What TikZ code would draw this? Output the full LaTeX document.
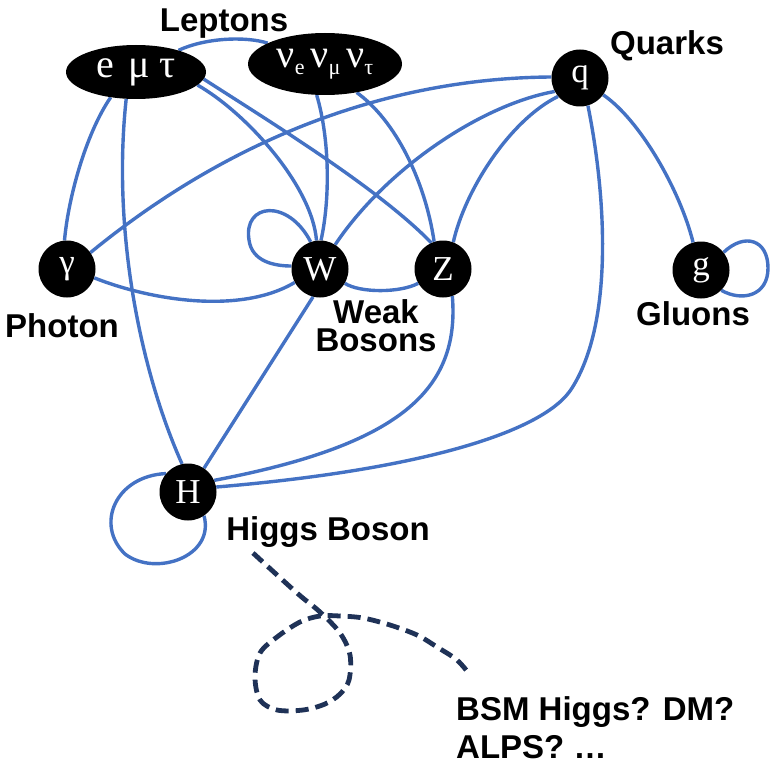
\documentclass[tikz,border=0pt]{standalone}
\usepackage{fontspec}
\setmainfont{Liberation Sans}
\newfontfamily\serifgk{Liberation Serif}
\usetikzlibrary{shapes.geometric,backgrounds}
\definecolor{edgeblue}{HTML}{4472C4}
\definecolor{navy}{HTML}{1F3257}
\newcommand\nusub[1]{\raisebox{-7pt}{\fontsize{22}{22}\selectfont #1}}
\begin{document}
\begin{tikzpicture}[x=1pt,y=-1pt,
 particle/.style={circle,fill=black,minimum size=57pt,inner sep=0pt,text=white,font=\serifgk\fontsize{35}{35}\selectfont},
 lepton/.style={ellipse,fill=black,inner sep=0pt,text=white,font=\serifgk\fontsize{40}{40}\selectfont},
 lab/.style={font=\bfseries\fontsize{33}{33}\selectfont,anchor=base,inner sep=0pt},
 link/.style={draw=edgeblue,line width=3.4pt},
 bsm/.style={draw=navy,line width=4.8pt,dash pattern=on 13pt off 7pt}]
\useasboundingbox (0,0) rectangle (770,778);

% particles
\node[lepton,minimum width=140pt,minimum height=54pt] (L) at (136,72) {\raisebox{-4pt}{e\hspace{14pt}μ\hspace{10pt}τ}};
\node[lepton,minimum width=154pt,minimum height=62pt] (N) at (325,64) {\raisebox{-3pt}{ν\nusub{e}\hspace{6pt}ν\nusub{μ}\hspace{6pt}ν\nusub{τ}}};
\node[particle] (q) at (580,78) {q};
\node[particle] (g) at (701,270) {g};
\node[particle] (ga) at (67,269) {γ};
\node[particle] (W) at (320,269) {W};
\node[particle] (Z) at (443,269) {Z};
\node[particle] (H) at (188,492) {H};

% labels
\node[lab] (tLep) at (224,32) {Leptons};
\node[lab] (tQ) at (667,55) {Quarks};
\node[lab] (tPh) at (62,337) {Photon};
\node[font=\bfseries\fontsize{33}{28}\selectfont,align=center,inner sep=0pt] (tWB) at (376,326) {Weak\\Bosons};
\node[lab] (tGl) at (693,325) {Gluons};
\node[lab] (tHiggs) at (328,540) {Higgs Boson};
\node[lab,anchor=base west] (tBSM1) at (456,720) {BSM Higgs? DM?};
\node[lab,anchor=base west] (tBSM2) at (456,758) {ALPS? …};

\begin{scope}[on background layer]
% leptons
\draw[link] (L.27) .. controls (205,38) and (245,36) .. (N.160);
\draw[link] (L.225) .. controls (85,135) and (68,200) .. (ga.95);
\draw[link] (L.250) .. controls (112,230) and (140,370) .. (H.102);
\draw[link] (L.-12) .. controls (245,112) and (312,185) .. (W.97);
\draw[link] (L.-6) .. controls (280,128) and (380,190) .. (Z.114);
\draw[link] (N.255) .. controls (330,140) and (330,200) .. (W.88);
\draw[link] (N.-42) .. controls (395,120) and (425,180) .. (Z.108);
% quarks
\draw[link] (q.178) .. controls (400,78) and (240,130) .. (ga.35);
\draw[link] (q.208) .. controls (480,105) and (385,170) .. (W.58);
\draw[link] (q.220) .. controls (510,120) and (465,190) .. (Z.69);
\draw[link] (q.-74) .. controls (605,190) and (615,320) .. (572,388)
                    .. controls (545,432) and (420,470) .. (H.10);
\draw[link] (q.-36) .. controls (640,120) and (680,190) .. (g.106);
% gluon loop
\draw[link] (g.38) .. controls (745,232) and (768,240) .. (768,268)
                   .. controls (768,296) and (742,302) .. (g.-45);
% photon / weak bosons
\draw[link] (ga.-18) .. controls (150,300) and (240,315) .. (W.208);
\draw[link] (W.109) .. controls (288,198) and (243,203) .. (249,240)
                    .. controls (252,262) and (275,266) .. (W.174);
\draw[link] (W.-30) .. controls (360,293) and (400,293) .. (Z.210);
\draw[link] (W.-104) -- (H.56);
\draw[link] (Z.-71) .. controls (460,390) and (400,445) .. (H.24);
% Higgs self loop
\draw[link] (H.140) .. controls (115,476) and (95,525) .. (125,554)
                    .. controls (155,577) and (215,557) .. (H.-56);
\end{scope}

% BSM dashed curve
\draw[bsm] plot[smooth,tension=0.55] coordinates {(253,553) (297,593) (320,612) (340,633) (350,655) (349,680) (340,694) (325,704) (303,710) (277,710) (260,700) (255,677) (260,653) (277,637) (300,622) (320,616) (340,616) (363,618) (390,625) (417,635) (437,647) (457,660) (470,675)};
\end{tikzpicture}
\end{document}
